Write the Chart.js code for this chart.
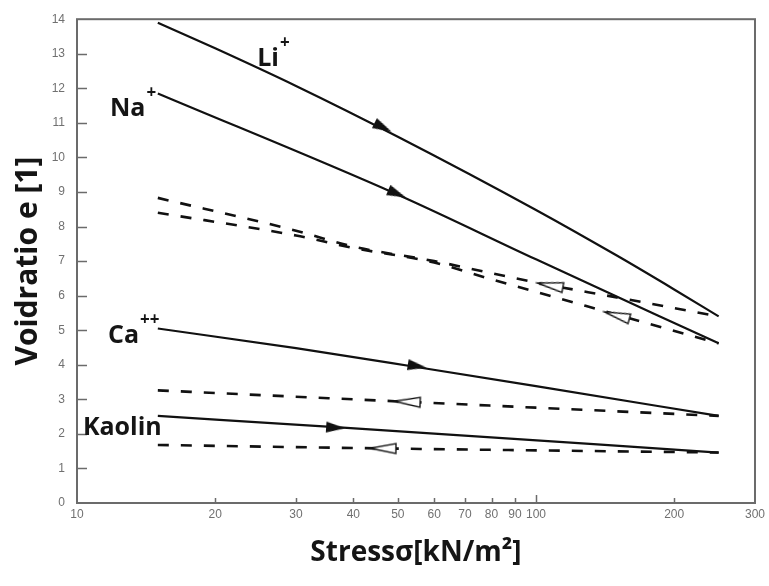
<!DOCTYPE html>
<html>
<head>
<meta charset="utf-8">
<script src="https://cdn.jsdelivr.net/npm/chart.js@4.4.0/dist/chart.umd.min.js"></script>
<style>
  html, body { margin: 0; padding: 0; background: #fff; }
  #wrap { width: 769px; height: 586px; }
</style>
</head>
<body>
<div id="wrap"><canvas id="voidChart" width="769" height="586"></canvas></div>
<script>
// tick values
const xTicks = [10, 20, 30, 40, 50, 60, 70, 80, 90, 100, 200, 300];
const yTicks = [0, 1, 2, 3, 4, 5, 6, 7, 8, 9, 10, 11, 12, 13, 14];

// loading curves (solid) and unloading curves (dashed)
const liLoadX = [15, 20, 30, 50, 100, 150, 200, 250];
const liLoadY = [13.9, 13.16, 12.07, 10.6, 8.48, 7.16, 6.18, 5.4];
const naLoadX = [15, 50, 100, 250];
const naLoadY = [11.85, 8.92, 7.05, 4.62];
const liUnloadX = [15, 30, 40, 60, 80, 100, 150, 250];
const liUnloadY = [8.83, 7.88, 7.42, 7.0, 6.65, 6.38, 5.95, 5.4];
const naUnloadX = [15, 30, 40, 60, 80, 100, 150, 250];
const naUnloadY = [8.4, 7.74, 7.38, 6.96, 6.47, 6.11, 5.45, 4.62];
const caLoadX = [15, 30, 54, 100, 250];
const caLoadY = [5.05, 4.48, 3.95, 3.38, 2.52];
const caUnloadX = [15, 52, 250];
const caUnloadY = [3.26, 2.93, 2.52];
const kaLoadX = [15, 38, 250];
const kaLoadY = [2.52, 2.18, 1.46];
const kaUnloadX = [15, 46, 250];
const kaUnloadY = [1.68, 1.58, 1.46];

// direction arrows sitting on the curves
const arrows = [
  { on: 'liLoad', x: 46.4, y: 10.87, open: false },
  { on: 'naLoad', x: 49.8, y: 8.95, open: false },
  { on: 'caLoad', x: 55.1, y: 3.96, open: false },
  { on: 'kaLoad', x: 36.6, y: 2.18, open: false },
  { on: 'liUnload', x: 107.3, y: 6.3, open: true },
  { on: 'naUnload', x: 150, y: 5.43, open: true },
  { on: 'caUnload', x: 52.4, y: 2.93, open: true },
  { on: 'kaUnload', x: 46.4, y: 1.58, open: true },
];

// curve labels
const ionLabels = [
  { text: 'Li', sup: '+', x: 24.7, y: 12.65 },
  { text: 'Na', sup: '+', x: 11.8, y: 11.19 },
  { text: 'Ca', sup: '++', x: 11.68, y: 4.62 },
  { text: 'Kaolin', sup: '', x: 10.3, y: 1.98 },
];

const curves = {
  liLoad: [liLoadX, liLoadY, false],
  naLoad: [naLoadX, naLoadY, false],
  liUnload: [liUnloadX, liUnloadY, true],
  naUnload: [naUnloadX, naUnloadY, true],
  caLoad: [caLoadX, caLoadY, false],
  caUnload: [caUnloadX, caUnloadY, true],
  kaLoad: [kaLoadX, kaLoadY, false],
  kaUnload: [kaUnloadX, kaUnloadY, true],
};

const makeArrowImage = (open) => {
  const len = open ? 26 : 19;
  const half = open ? 5 : 5.5;
  const c = document.createElement('canvas');
  c.width = len + 4;
  c.height = Math.ceil(half * 2) + 4;
  const g = c.getContext('2d');
  g.beginPath();
  g.moveTo(c.width - 2, c.height / 2);
  g.lineTo(2, c.height / 2 - half);
  g.lineTo(2, c.height / 2 + half);
  g.closePath();
  if (open) {
    g.fillStyle = '#fff';
    g.fill();
    g.lineWidth = 1.4;
    g.strokeStyle = '#111';
    g.stroke();
  } else {
    g.fillStyle = '#111';
    g.fill();
  }
  return c;
};
const solidArrow = makeArrowImage(false);
const openArrow = makeArrowImage(true);

// angle of a curve (in screen pixels) around a given x value
const lineAngle = (chart, key, xv) => {
  const [xs, ys] = curves[key];
  const sx = chart.scales.x;
  const sy = chart.scales.y;
  let i = xs.findIndex((v) => v >= xv);
  if (i < 1) i = 1;
  const dx = sx.getPixelForValue(xs[i]) - sx.getPixelForValue(xs[i - 1]);
  const dy = sy.getPixelForValue(ys[i]) - sy.getPixelForValue(ys[i - 1]);
  return (Math.atan2(dy, dx) * 180) / Math.PI;
};

const arrowDatasets = arrows.map((a) => ({
  data: [{ x: a.x, y: a.y }],
  showLine: false,
  order: -1,
  pointStyle: a.open ? openArrow : solidArrow,
  pointRadius: 6,
  pointRotation: (ctx) => lineAngle(ctx.chart, a.on, a.x) + (a.open ? 180 : 0),
}));

const curveDatasets = Object.keys(curves).map((key) => {
  const [xs, ys, dashed] = curves[key];
  return {
    data: xs.map((x, i) => ({ x, y: ys[i] })),
    borderColor: '#111',
    borderWidth: dashed ? 2.6 : 2.2,
    borderDash: dashed ? [11, 12] : [],
    pointRadius: 0,
    cubicInterpolationMode: 'monotone',
  };
});

const frameAndTicksPlugin = {
  id: 'frameAndTicks',
  beforeDatasetsDraw: (chart) => {
    const { ctx, chartArea } = chart;
    const sx = chart.scales.x;
    const sy = chart.scales.y;
    ctx.save();
    ctx.strokeStyle = '#6b6b6b';
    ctx.lineWidth = 2;
    ctx.strokeRect(chartArea.left, chartArea.top, chartArea.right - chartArea.left, chartArea.bottom - chartArea.top);
    ctx.lineWidth = 1.5;
    ctx.beginPath();
    yTicks.slice(1, -1).forEach((v) => {
      const y = Math.round(sy.getPixelForValue(v)) + 0.5;
      ctx.moveTo(chartArea.left, y);
      ctx.lineTo(chartArea.left + 10, y);
    });
    xTicks.slice(1, -1).forEach((v) => {
      const x = Math.round(sx.getPixelForValue(v)) + 0.5;
      ctx.moveTo(x, chartArea.bottom);
      ctx.lineTo(x, chartArea.bottom - (v === 100 ? 8 : 5));
    });
    ctx.stroke();
    ctx.restore();
  },
};

const ionLabelPlugin = {
  id: 'ionLabels',
  afterDatasetsDraw: (chart) => {
    const { ctx } = chart;
    const sx = chart.scales.x;
    const sy = chart.scales.y;
    ctx.save();
    ctx.fillStyle = '#151515';
    ctx.textBaseline = 'alphabetic';
    ionLabels.forEach((lab) => {
      const x = sx.getPixelForValue(lab.x);
      const y = sy.getPixelForValue(lab.y);
      ctx.font = 'bold 25px "Open Sans"';
      ctx.fillText(lab.text, x, y);
      if (lab.sup) {
        const w = ctx.measureText(lab.text).width;
        ctx.font = 'bold 17px "Open Sans"';
        ctx.fillText(lab.sup, x + w + 1, y - 18);
      }
    });
    ctx.restore();
  },
};

new Chart(document.getElementById('voidChart'), {
  type: 'line',
  data: { datasets: [...arrowDatasets, ...curveDatasets] },
  plugins: [frameAndTicksPlugin, ionLabelPlugin],
  options: {
    responsive: false,
    animation: false,
    events: [],
    layout: { padding: { top: 15, right: 14, left: 0, bottom: 0 } },
    plugins: { legend: { display: false }, tooltip: { enabled: false } },
    scales: {
      x: {
        type: 'logarithmic',
        min: 10,
        max: 300,
        afterBuildTicks: (scale) => {
          scale.ticks = xTicks.map((value) => ({ value }));
        },
        afterFit: (scale) => {
          scale.height = 83;
        },
        grid: { display: false, drawTicks: false },
        border: { display: false },
        ticks: {
          autoSkip: false,
          maxRotation: 0,
          padding: 4,
          color: '#707070',
          font: { family: 'Liberation Sans', size: 12 },
          callback: (value) => String(value),
        },
        title: {
          display: true,
          text: 'Stressσ[kN/m²]',
          color: '#151515',
          font: { family: 'Open Sans', size: 28, weight: 'bold' },
          padding: { top: 0, bottom: 16 },
        },
      },
      y: {
        type: 'linear',
        min: 0,
        max: 14,
        afterBuildTicks: (scale) => {
          scale.ticks = yTicks.map((value) => ({ value }));
        },
        afterFit: (scale) => {
          scale.width = 77;
        },
        grid: { display: false, drawTicks: false },
        border: { display: false },
        ticks: {
          padding: 12,
          color: '#707070',
          font: { family: 'Liberation Sans', size: 12 },
        },
        title: {
          display: true,
          text: 'Voidratio e [1]',
          color: '#151515',
          font: { family: 'Open Sans', size: 30, weight: 'bold' },
          padding: { top: 10, bottom: 0 },
        },
      },
    },
  },
});
</script>
</body>
</html>
